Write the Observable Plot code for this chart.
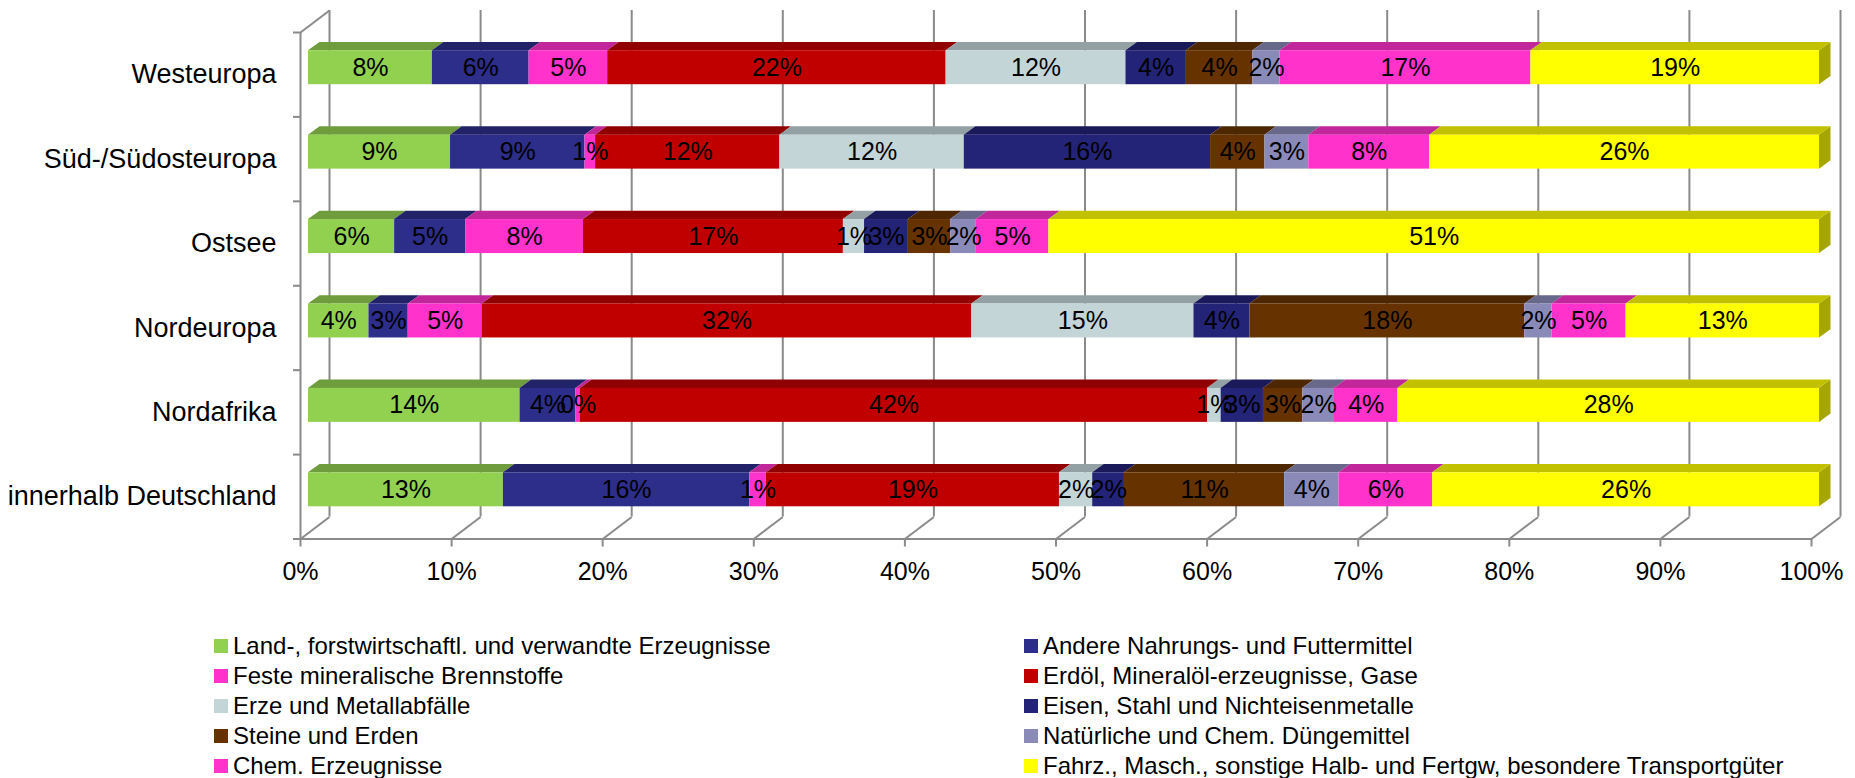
<!DOCTYPE html>
<html><head><meta charset="utf-8">
<script src="https://cdn.jsdelivr.net/npm/d3@7"></script>
<script src="https://cdn.jsdelivr.net/npm/@observablehq/plot@0.6"></script>
<style>
body{margin:0;background:#fff;font-family:"Liberation Sans",Arial,sans-serif;}
#legend{position:relative;width:1855px;height:153px;}
.item{position:absolute;height:30px;display:flex;align-items:center;font-size:24px;white-space:nowrap;color:#000}
.sw{width:14px;height:14px;margin-right:5px;flex:none}
</style></head><body>
<div id="chart"></div><div id="legend"></div>
<script>
// ---- data ----
const categories = ["Westeuropa", "Süd-/Südosteuropa", "Ostsee", "Nordeuropa", "Nordafrika", "innerhalb Deutschland"];
const series = [
  "Land-, forstwirtschaftl. und verwandte Erzeugnisse",
  "Andere Nahrungs- und Futtermittel",
  "Feste mineralische Brennstoffe",
  "Erdöl, Mineralöl-erzeugnisse, Gase",
  "Erze und Metallabfälle",
  "Eisen, Stahl und Nichteisenmetalle",
  "Steine und Erden",
  "Natürliche und Chem. Düngemittel",
  "Chem. Erzeugnisse",
  "Fahrz., Masch., sonstige Halb- und Fertgw, besondere Transportgüter"
];
const colors = ["#92D050", "#2D2D8A", "#FF33CC", "#C00000", "#C4D5D8", "#232377", "#663300", "#8A8AB8", "#FF33CC", "#FFFF00"];
const westeuropa = [8.2, 6.4, 5.2, 22.4, 11.9, 4.0, 4.4, 1.8, 16.6, 19.1];
const suedSuedosteuropa = [9.4, 8.9, 0.7, 12.2, 12.2, 16.3, 3.6, 2.9, 8.0, 25.8];
const ostsee = [5.7, 4.7, 7.8, 17.2, 1.4, 2.9, 2.8, 1.7, 4.8, 51.0];
const nordeuropa = [4.0, 2.6, 4.9, 32.4, 14.7, 3.7, 18.2, 1.8, 4.9, 12.8];
const nordafrika = [14.0, 3.7, 0.3, 41.5, 0.9, 2.8, 2.6, 2.1, 4.2, 27.9];
const innerhalbDeutschland = [12.9, 16.3, 1.1, 19.4, 2.2, 2.1, 10.6, 3.6, 6.2, 25.6];
const xTicks = [0, 10, 20, 30, 40, 50, 60, 70, 80, 90, 100];

// ---- layout (3D look) ----
const W = 1855, H = 625, mL = 300, mR = 44, mT = 32, mB = 86.5;
const pxX = (W - mL - mR) / 100;              // px per percent
const pxY = (H - mT - mB) / categories.length; // px per category
const floorDX = 29 / pxX, floorDY = 22 / pxY;  // wall depth
const shiftX = 8 / pxX, shiftY = 7 / pxY;      // bar front plane offset
const half = 17 / pxY;                          // half bar height
const barDX = 11.5 / pxX, barDY = 8.3 / pxY;    // bar depth
const nCat = categories.length;
const yMax = nCat;

const rows = [westeuropa, suedSuedosteuropa, ostsee, nordeuropa, nordafrika, innerhalbDeutschland];
const segs = [];
rows.forEach((vals, i) => {
  let acc = 0;
  const c = nCat - 0.5 - i + shiftY;
  vals.forEach((v, j) => {
    segs.push({cat: categories[i], j, v, x1: acc + shiftX, x2: acc + v + shiftX,
      yb: c - half, yt: c + half, yc: c, xc: acc + v / 2 + shiftX,
      fill: colors[j], top: d3.color(colors[j]).darker(0.78).formatHex(),
      label: Math.round(v) + "%"});
    acc += v;
  });
});
const topPts = segs.flatMap((s, k) => [
  {k, x1: s.x1, y1: s.yt, x2: s.x1 + barDX, y2: s.yt + barDY, fill: s.top},
  {k, x1: s.x2, y1: s.yt, x2: s.x2 + barDX, y2: s.yt + barDY, fill: s.top}
]);
const lastSegs = segs.filter(s => s.j === series.length - 1);
const sidePts = lastSegs.flatMap((s, k) => [
  {k, x1: s.x2, y1: s.yb, x2: s.x2, y2: s.yt, fill: d3.color(s.fill).darker(1.2).formatHex()},
  {k, x1: s.x2 + barDX, y1: s.yb + barDY, x2: s.x2 + barDX, y2: s.yt + barDY, fill: d3.color(s.fill).darker(1.2).formatHex()}
]);

const gridColor = "#8a8a8a";
const catCenters = d3.range(nCat).map(i => nCat - 0.5 - i);

const chart = Plot.plot({
  width: W, height: H,
  marginLeft: mL, marginRight: mR, marginTop: mT, marginBottom: mB,
  x: {domain: [0, 100]},
  y: {domain: [0, yMax]},
  color: {type: "identity"},
  style: {fontFamily: "'Liberation Sans', Arial, sans-serif", background: "white", overflow: "visible"},
  marks: [
    // back wall grid lines
    Plot.ruleX(xTicks, {x: d => d + floorDX, y1: floorDY, y2: yMax + floorDY, stroke: gridColor, strokeWidth: 2}),
    // floor diagonals
    Plot.link(xTicks, {x1: d => d, y1: 0, x2: d => d + floorDX, y2: floorDY, stroke: gridColor, strokeWidth: 2}),
    // floor front edge
    Plot.ruleY([0], {x1: 0, x2: 100, stroke: gridColor, strokeWidth: 2}),
    // left wall front edge + top diagonal
    Plot.ruleX([0], {y1: 0, y2: yMax, stroke: gridColor, strokeWidth: 2}),
    Plot.link([0], {x1: 0, y1: yMax, x2: floorDX, y2: yMax + floorDY, stroke: gridColor, strokeWidth: 2}),
    // axes
    Plot.axisX({ticks: xTicks, tickFormat: d => d + "%", tickSize: 8, tickPadding: 15, stroke: gridColor, strokeWidth: 2, fill: "black", fontSize: 25, label: null}),
    Plot.axisY({ticks: d3.range(nCat + 1), tickFormat: () => "", tickSize: 7, stroke: gridColor, strokeWidth: 2, label: null}),
    Plot.axisY({ticks: catCenters, tickFormat: t => categories[Math.round(nCat - 0.5 - t)], tickSize: 0, tickPadding: 24, fill: "black", fontSize: 27, label: null}),
    // bars: right side, top faces, front faces
    Plot.area(sidePts, {x1: "x1", y1: "y1", x2: "x2", y2: "y2", z: "k", fill: "fill"}),
    Plot.area(topPts, {x1: "x1", y1: "y1", x2: "x2", y2: "y2", z: "k", fill: "fill"}),
    Plot.rect(segs, {x1: "x1", x2: "x2", y1: "yb", y2: "yt", fill: "fill"}),
    Plot.text(segs, {x: "xc", y: "yc", text: "label", fontSize: 25, fill: "black"})
  ]
});
document.getElementById("chart").appendChild(chart);

// ---- legend ----
const legend = document.getElementById("legend");
const colLeft = [214, 1024];
const rowTop = [6, 36, 66, 96, 126];
series.forEach((s, j) => {
  const item = document.createElement("div");
  item.className = "item";
  item.style.left = colLeft[j % 2] + "px";
  item.style.top = rowTop[Math.floor(j / 2)] + "px";
  const sw = document.createElement("span");
  sw.className = "sw";
  sw.style.background = colors[j];
  item.appendChild(sw);
  item.appendChild(document.createTextNode(s));
  legend.appendChild(item);
});
</script>
</body></html>
